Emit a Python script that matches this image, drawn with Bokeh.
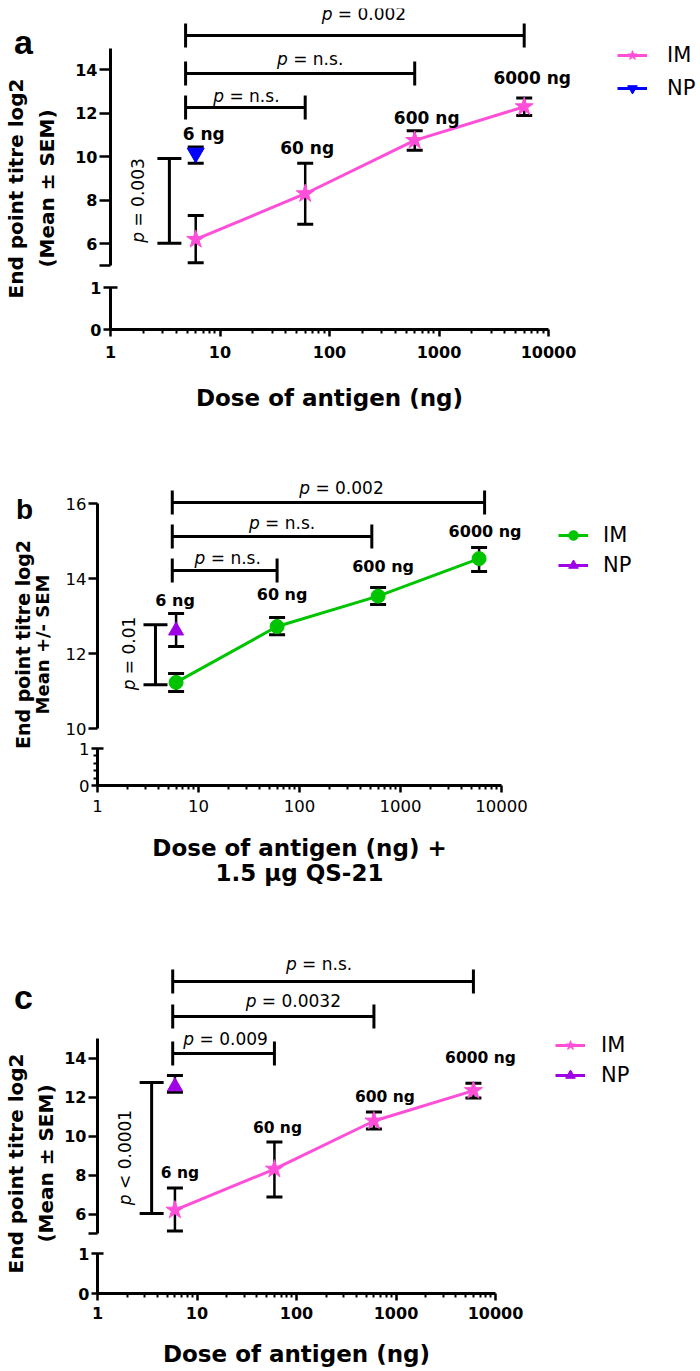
import math
from bokeh.plotting import figure
from bokeh.layouts import row, column
from bokeh.models import (Range1d, FixedTicker, Whisker, TeeHead, ColumnDataSource,
                          Legend, LegendItem)
from bokeh.core.properties import value
from bokeh.embed import file_html
from bokeh.resources import INLINE

# ---------------- data ----------------
doses = [6, 60, 600, 6000]
dose_labels = ["6 ng", "60 ng", "600 ng", "6000 ng"]
np_dose = [6]
x_ticks = [1, 10, 100, 1000, 10000]
x_tick_labels = ["1", "10", "100", "1000", "10000"]

a_im_mean = [6.2, 8.3, 10.75, 12.3]
a_im_hi = [7.3, 9.7, 11.2, 12.7]
a_im_lo = [5.13, 6.9, 10.3, 11.9]
a_np_mean = [10.17]
a_np_hi = [10.45]
a_np_lo = [9.7]

b_im_mean = [11.23, 12.72, 13.53, 14.53]
b_im_hi = [11.47, 12.96, 13.76, 14.83]
b_im_lo = [10.99, 12.5, 13.31, 14.19]
b_np_mean = [12.61]
b_np_hi = [13.07]
b_np_lo = [12.19]

c_im_mean = [6.2, 8.3, 10.77, 12.33]
c_im_hi = [7.33, 9.69, 11.23, 12.7]
c_im_lo = [5.13, 6.87, 10.36, 11.95]
c_np_mean = [12.54]
c_np_hi = [13.1]
c_np_lo = [12.25]

# significance annotations (comparisons vs 6 ng IM)
a_cmp_right = [60, 600, 6000]
a_cmp_p = ["= n.s.", "= n.s.", "= 0.002"]
a_vs = [6.02, 9.92]
a_vs_p = "= 0.003"
b_cmp_right = [60, 520, 6800]
b_cmp_p = ["= n.s.", "= n.s.", "= 0.002"]
b_vs = [11.17, 12.77]
b_vs_p = "= 0.01"
c_cmp_right = [60, 600, 6000]
c_cmp_p = ["= 0.009", "= 0.0032", "= n.s."]
c_vs = [6.03, 12.74]
c_vs_p = "< 0.0001"

a_x_title = ["Dose of antigen (ng)"]
b_x_title = ["Dose of antigen (ng) +", "1.5 \u03bcg QS-21"]
c_x_title = ["Dose of antigen (ng)"]

PINK = "#ff4fd8"
GREEN = "#00c400"
PURPLE = "#a000e6"
BLUE = "#0000ff"
FONT = "DejaVu Sans"
RIGHT = 700
BORDER = 39   # width of the y-axis panel of every plot


def est(s, size):
    tbl = {'.': .318, ' ': .318, '=': .838, '<': .838, 's': .521, 'n': .634, 'p': .635}
    return sum(tbl.get(c, .636) for c in s) * size


PA = dict(axis_x=110, ppd=109.5, y0=5, ytop=15, px_y0=265, ppu=21.75, row_top=0, frame_top=8,
          low_top=287, low_bot=329, tick_room=38, next_top=470, title_px=[397],
          yticks=[5, 6, 8, 10, 12, 14], blank=True, bold=True, tick_size=16, xtick_size=16,
          low_minor=[], low_in=7, low_out=7, ytick_out=11, xm_standoff=9,
          marker="star", im_color=PINK, np_marker="inverted_triangle", np_color=BLUE,
          im_size=19, np_size=17,
          cmp_left=4.85, cmp_px=[107, 73, 35], cmp_text_px=[95, 58, 13], cmp_text_dx=[1, 10, 9],
          vs_x=3.45, vs_text_x=1.8, vs_text_px=200,
          lab_px=[133, 147, 117, 77], lab_dx=[8, 2, 12, 8], lab_size=17,
          leg_x=617, leg_row1=55, leg_pitch=33, leg_standoff=20,
          letter=("a", 23, 41, 34),
          ytitles=[("End point titre log2", 15, 188, 20), ("(Mean \u00b1 SEM)", 46, 188, 20)])
PB = dict(axis_x=97, ppd=101, y0=10, ytop=16, px_y0=728, ppu=37.5, row_top=470, frame_top=470,
          low_top=748, low_bot=785, tick_room=34, next_top=950, title_px=[847, 872],
          yticks=[10, 12, 14, 16], blank=False, bold=False, tick_size=16.5, xtick_size=16.5,
          low_minor=[0.2, 0.4, 0.6, 0.8], low_in=6, low_out=6, ytick_out=9, xm_standoff=7,
          marker="circle", im_color=GREEN, np_marker="triangle", np_color=PURPLE,
          im_size=14, np_size=15,
          cmp_left=5.5, cmp_px=[570, 536, 502], cmp_text_px=[557, 522, 487], cmp_text_dx=[3, 10, 13],
          vs_x=3.75, vs_text_x=2.03, vs_text_px=653,
          lab_px=[600, 594, 566, 531], lab_dx=[-1, 5, 5, 6], lab_size=16,
          leg_x=558, leg_row1=535, leg_pitch=30, leg_standoff=15,
          letter=("b", 24, 509, 28),
          ytitles=[("End point titre log2", 22, 644, 19), ("Mean +/- SEM", 42, 644, 18)])
PC = dict(axis_x=97, ppd=99.5, y0=5, ytop=15, px_y0=1233, ppu=19.5, row_top=950, frame_top=950,
          low_top=1253, low_bot=1293, tick_room=34, next_top=1368, title_px=[1353],
          yticks=[5, 6, 8, 10, 12, 14], blank=True, bold=True, tick_size=16, xtick_size=16,
          low_minor=[], low_in=6, low_out=6, ytick_out=9, xm_standoff=6,
          marker="star", im_color=PINK, np_marker="triangle", np_color=PURPLE,
          im_size=19, np_size=15,
          cmp_left=5.7, cmp_px=[1053, 1016, 981], cmp_text_px=[1038, 1000, 963], cmp_text_dx=[2, 20, -4],
          vs_x=3.5, vs_text_x=1.91, vs_text_px=1157,
          lab_px=[1172, 1127, 1096, 1057], lab_dx=[5, 3, 11, 7], lab_size=15.5,
          leg_x=555, leg_row1=1045, leg_pitch=30, leg_standoff=16,
          letter=("c", 23, 996, 34),
          ytitles=[("End point titre log2", 15, 1163, 20), ("(Mean \u00b1 SEM)", 45, 1163, 20)])


def ptext(fig, x, y, rest, size, angle=0.0, dx=0.0, ppu=None):
    W = est("p " + rest, size)
    wp = est("p ", size)
    common = dict(text_font=value(FONT), text_font_size=f"{size}px", text_color="black",
                  text_align="left", text_baseline="middle")
    if angle == 0:
        fig.text(x=[x], y=[y], text=["p"], x_offset=dx - W / 2, text_font_style="italic", **common)
        fig.text(x=[x], y=[y], text=[rest], x_offset=dx - W / 2 + wp, **common)
    else:
        ybot = y - (W / 2) / ppu
        fig.text(x=[x], y=[ybot], text=["p"], angle=math.pi / 2, text_font_style="italic", **common)
        fig.text(x=[x], y=[ybot + wp / ppu], text=[rest], angle=math.pi / 2, **common)


def style_axis(axis, size, bold, out, inn=0):
    axis.axis_line_width = 3
    axis.axis_line_color = "black"
    axis.major_tick_line_width = 2.5
    axis.major_tick_line_color = "black"
    axis.major_tick_out = out
    axis.major_tick_in = inn
    axis.major_label_text_font = FONT
    axis.major_label_text_font_size = f"{size}px"
    axis.major_label_text_font_style = "bold" if bold else "normal"
    axis.major_label_text_color = "black"


def blank_fig(xr, yr, fw, fh, left_border):
    f = figure(x_range=xr, y_range=yr, frame_width=fw, frame_height=fh,
               min_border_left=left_border, min_border_right=0, min_border_top=0,
               min_border_bottom=0, x_axis_location=None, y_axis_location=None,
               output_backend="svg", toolbar_location=None)
    f.grid.visible = False
    f.outline_line_color = None
    return f


def build(P, im_mean, im_hi, im_lo, np_mean, np_hi, np_lo, cmp_right, cmp_p, vs, vs_p, x_title):
    ax = P["axis_x"]
    fw = RIGHT - ax
    xr = Range1d(1, 10 ** (fw / P["ppd"]))
    fh = P["px_y0"] - P["frame_top"]
    ppu = P["ppu"]
    gap = P["low_top"] - P["px_y0"]
    gap_up = gap // 2

    def yd(px):
        return P["y0"] + (P["px_y0"] - px) / ppu

    up = figure(x_axis_type="log", x_range=xr, y_range=Range1d(P["y0"], yd(P["frame_top"])),
                frame_width=fw, frame_height=fh, min_border_left=BORDER,
                min_border_right=0, min_border_top=P["frame_top"] - P["row_top"],
                min_border_bottom=gap_up,
                x_axis_location=None, output_backend="svg", toolbar_location=None)
    up.grid.visible = False
    up.outline_line_color = None
    ya = up.yaxis[0]
    ya.ticker = FixedTicker(ticks=P["yticks"])
    ya.bounds = (P["y0"], P["ytop"])
    if P["blank"]:
        ya.major_label_overrides = {P["yticks"][0]: ""}
    ya.minor_tick_line_color = None
    ya.major_label_standoff = 2
    style_axis(ya, P["tick_size"], P["bold"], P["ytick_out"])

    # error bars
    src_im = ColumnDataSource(dict(x=doses, lo=im_lo, hi=im_hi))
    src_np = ColumnDataSource(dict(x=np_dose, lo=np_lo, hi=np_hi))
    for src in (src_im, src_np):
        up.add_layout(Whisker(source=src, base="x", lower="lo", upper="hi", dimension="height",
                              line_color="black", line_width=2.5,
                              upper_head=TeeHead(size=16, line_width=3, line_color="black"),
                              lower_head=TeeHead(size=16, line_width=3, line_color="black")))

    im_line = up.line(doses, im_mean, line_color=P["im_color"], line_width=3)
    im_pts = up.scatter(doses, im_mean, marker=P["marker"], size=P["im_size"],
                        fill_color=P["im_color"], line_color=P["im_color"])
    np_line = up.line(np_dose, np_mean, line_color=P["np_color"], line_width=3)
    np_pts = up.scatter(np_dose, np_mean, marker=P["np_marker"], size=P["np_size"],
                        fill_color=P["np_color"], line_color=P["np_color"])

    # dose labels
    up.text(x=doses, y=[yd(v) for v in P["lab_px"]], text=dose_labels, x_offset=P["lab_dx"],
            text_font=value(FONT), text_font_style="bold", text_font_size=f"{P['lab_size']}px",
            text_align="center", text_baseline="middle", text_color="black")

    # comparison brackets
    lvl = [yd(v) for v in P["cmp_px"]]
    left = [P["cmp_left"]] * len(cmp_right)
    bsrc = ColumnDataSource(dict(y=lvl, x0=left, x1=cmp_right))
    up.add_layout(Whisker(source=bsrc, base="y", lower="x0", upper="x1", dimension="width",
                          line_color="black", line_width=3,
                          upper_head=TeeHead(size=24, line_width=3, line_color="black"),
                          lower_head=TeeHead(size=24, line_width=3, line_color="black")))
    for x1, txt, tpx, dx in zip(cmp_right, cmp_p, P["cmp_text_px"], P["cmp_text_dx"]):
        ptext(up, math.sqrt(P["cmp_left"] * x1), yd(tpx), txt, 17, dx=dx)

    vsrc = ColumnDataSource(dict(x=[P["vs_x"]], lo=[vs[0]], hi=[vs[1]]))
    up.add_layout(Whisker(source=vsrc, base="x", lower="lo", upper="hi", dimension="height",
                          line_color="black", line_width=3,
                          upper_head=TeeHead(size=24, line_width=3, line_color="black"),
                          lower_head=TeeHead(size=24, line_width=3, line_color="black")))
    ptext(up, P["vs_text_x"], yd(P["vs_text_px"]), vs_p, 17, angle=math.pi / 2, ppu=ppu)

    # legend (location = bottom-left corner of the legend, from the frame's bottom-left)
    item_h = 24
    leg_bottom = P["leg_row1"] + P["leg_pitch"] + item_h / 2
    leg = Legend(items=[LegendItem(label="IM", renderers=[im_line, im_pts]),
                        LegendItem(label="NP", renderers=[np_line, np_pts])],
                 location=(P["leg_x"] - ax, P["px_y0"] - leg_bottom),
                 glyph_width=30, glyph_height=item_h, label_height=item_h,
                 label_standoff=P["leg_standoff"], spacing=P["leg_pitch"] - item_h,
                 padding=0, margin=0, border_line_color=None, background_fill_alpha=0,
                 label_text_font=FONT, label_text_font_size="21px", label_text_color="black")
    up.add_layout(leg)

    # lower segment of the broken y axis, with the x axis
    lh = P["low_bot"] - P["low_top"]
    lo = figure(x_axis_type="log", x_range=xr, y_range=Range1d(0, 1),
                frame_width=fw, frame_height=lh, min_border_left=BORDER,
                min_border_right=0, min_border_top=gap - gap_up,
                min_border_bottom=P["tick_room"],
                output_backend="svg", toolbar_location=None)
    lo.grid.visible = False
    lo.outline_line_color = None
    ly = lo.yaxis[0]
    ly.ticker = FixedTicker(ticks=[0, 1], minor_ticks=P["low_minor"])
    ly.bounds = (0, 1)
    ly.major_label_standoff = 2
    ly.minor_tick_out = 4
    ly.minor_tick_in = 0
    ly.minor_tick_line_width = 2
    ly.minor_tick_line_color = "black"
    style_axis(ly, P["tick_size"], P["bold"], P["low_out"], P["low_in"])

    lx = lo.xaxis[0]
    minors = [m * 10 ** k for k in range(4) for m in range(2, 10)]
    lx.ticker = FixedTicker(ticks=x_ticks, minor_ticks=minors)
    lx.bounds = (1, 10000)
    lx.major_label_overrides = {t: s for t, s in zip(x_ticks, x_tick_labels)}
    style_axis(lx, P["xtick_size"], P["bold"], 7)
    lx.minor_tick_out = 4
    lx.minor_tick_in = 0
    lx.minor_tick_line_width = 2
    lx.minor_tick_line_color = "black"
    lx.major_label_standoff = P["xm_standoff"]

    # x-axis title, centred under the 1..10000 axis (page coordinates)
    t_top = P["low_bot"] + P["tick_room"]
    t_h = P["next_top"] - t_top
    tf = blank_fig(Range1d(ax, RIGHT), Range1d(0, t_h), fw, t_h, BORDER)
    cx = ax + 2 * P["ppd"]
    tf.text(x=[cx] * len(x_title), y=[t_top + t_h - v for v in P["title_px"]], text=x_title,
            text_font=value(FONT), text_font_style="bold", text_font_size="23px",
            text_align="center", text_baseline="middle", text_color="black")

    # left strip: panel letter and y-axis title
    sw = ax - BORDER
    sh = P["next_top"] - P["row_top"]
    strip = blank_fig(Range1d(0, sw), Range1d(0, sh), sw, sh, 0)

    def py(page_y):
        return P["row_top"] + sh - page_y

    t, x, y, s = P["letter"]
    strip.text(x=[x], y=[py(y)], text=[t], text_font=value("Liberation Sans"),
               text_font_style="bold", text_font_size=f"{s}px", text_align="center",
               text_baseline="alphabetic", text_color="black")
    for t, x, y, s in P["ytitles"]:
        strip.text(x=[x], y=[py(y)], text=[t], angle=math.pi / 2, text_font=value(FONT),
                   text_font_style="bold", text_font_size=f"{s}px", text_align="center",
                   text_baseline="middle", text_color="black")
    return row(strip, column(up, lo, tf, spacing=0), spacing=0)


ra = build(PA, a_im_mean, a_im_hi, a_im_lo, a_np_mean, a_np_hi, a_np_lo,
           a_cmp_right, a_cmp_p, a_vs, a_vs_p, a_x_title)
rb = build(PB, b_im_mean, b_im_hi, b_im_lo, b_np_mean, b_np_hi, b_np_lo,
           b_cmp_right, b_cmp_p, b_vs, b_vs_p, b_x_title)
rc = build(PC, c_im_mean, c_im_hi, c_im_lo, c_np_mean, c_np_hi, c_np_lo,
           c_cmp_right, c_cmp_p, c_vs, c_vs_p, c_x_title)

layout = column(ra, rb, rc, spacing=0)
open("out.html", "w").write(file_html(layout, INLINE))
